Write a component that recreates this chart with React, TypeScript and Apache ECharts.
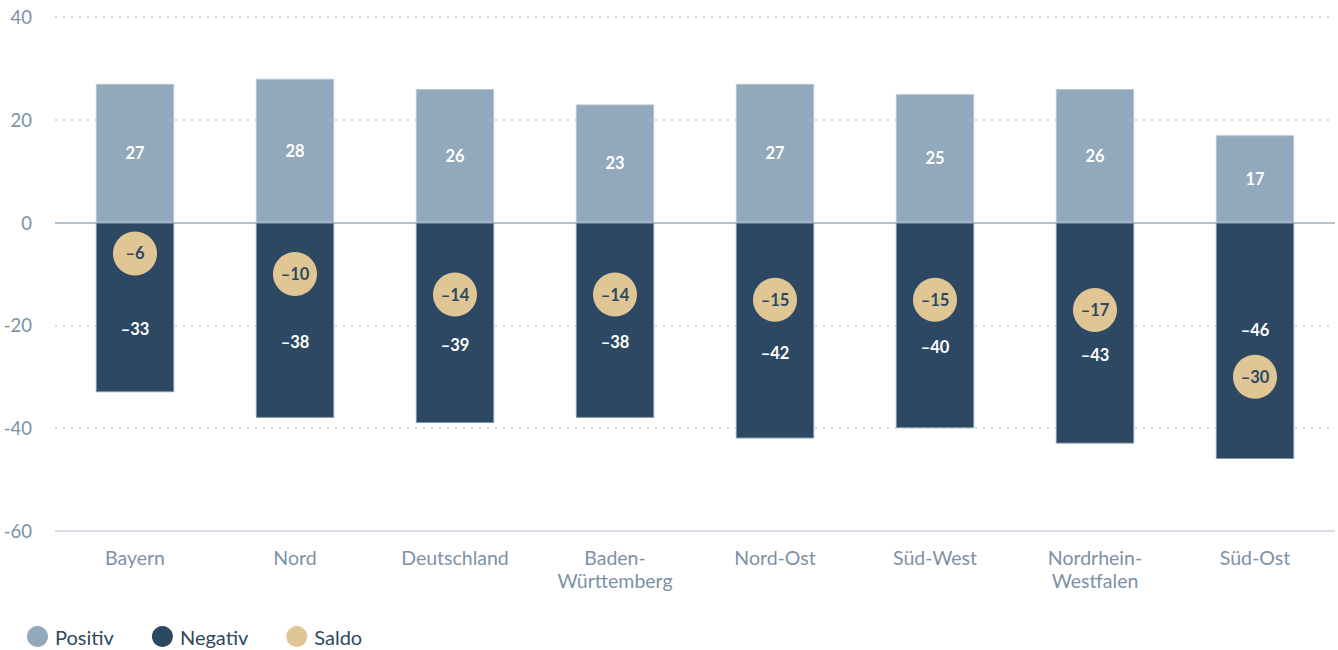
import React, { useEffect, useRef } from "react";
import * as echarts from "echarts";

const categories = ["Bayern", "Nord", "Deutschland", "Baden-\nWürttemberg", "Nord-Ost", "Süd-West", "Nordrhein-\nWestfalen", "Süd-Ost"];
const positiv = [27, 28, 26, 23, 27, 25, 26, 17];
const negativ = [-33, -38, -39, -38, -42, -40, -43, -46];
const saldo = [-6, -10, -14, -14, -15, -15, -17, -30];
const yTicks = { min: -60, max: 40, interval: 20 };

const C_POS = "#92a8bc";
const C_NEG = "#2d4862";
const C_SAL = "#e0c695";
const FONT = "Lato";
const fmt = (v: number) => (v < 0 ? "\u2013" + Math.abs(v) : String(v));

export default function App() {
  const ref = useRef<HTMLDivElement>(null);
  useEffect(() => {
    if (!ref.current) return;
    const chart = echarts.init(ref.current, undefined, { renderer: "svg" });
    const negData = negativ.map((v, i) => {
      const labelVal = v / 2 - 4.3;
      const collide = Math.abs(saldo[i] - labelVal) < 6;
      return {
        value: v,
        label: { offset: [0, collide ? -11 : 22] },
      };
    });
    chart.setOption({
      animation: false,
      textStyle: { fontFamily: FONT },
      grid: { left: 55, right: 3, top: 17, bottom: 119, containLabel: false },
      legend: {
        left: 22,
        bottom: -2,
        icon: "circle",
        itemWidth: 21,
        itemHeight: 21,
        itemGap: 38,
        itemStyle: { borderWidth: 0 },
        textStyle: { fontFamily: FONT, fontSize: 20, color: C_NEG, padding: [0, 0, 0, 2] },
        data: ["Positiv", "Negativ", "Saldo"],
      },
      xAxis: {
        type: "category",
        data: categories,
        axisLine: { show: false },
        axisTick: { show: false },
        axisLabel: { color: "#7d91a6", fontSize: 19.5, fontFamily: FONT, margin: 15, lineHeight: 23, interval: 0 },
      },
      yAxis: {
        type: "value",
        min: yTicks.min,
        max: yTicks.max,
        interval: yTicks.interval,
        axisLine: { show: false },
        axisTick: { show: false },
        axisLabel: { color: "#7d91a6", fontSize: 18.5, fontFamily: FONT, margin: 23 },
        splitLine: { show: true, lineStyle: { color: "#c3cedb", type: [2, 6], width: 1.5 } },
      },
      series: [
        {
          name: "Positiv",
          type: "bar",
          data: positiv,
          barWidth: "49%",
          barGap: "-100%",
          itemStyle: { color: C_POS, borderColor: "#b9c7d4", borderWidth: 1 },
          label: { show: true, position: "inside", color: "#fff", fontWeight: "bold", fontSize: 16.5, fontFamily: FONT, formatter: (p: any) => fmt(p.value) },
          z: 2,
        },
        {
          name: "Negativ",
          type: "bar",
          data: negData,
          barWidth: "49%",
          itemStyle: { color: C_NEG, borderColor: "#8297ab", borderWidth: 1 },
          label: { show: true, position: "inside", color: "#fff", fontWeight: "bold", fontSize: 16.5, fontFamily: FONT, formatter: (p: any) => fmt(p.value) },
          markLine: {
            silent: true,
            symbol: "none",
            label: { show: false },
            lineStyle: { color: "#b5c3d1", width: 2, type: "solid" },
            data: [{ yAxis: 0 }],
            z: 1,
          },
          z: 2,
        },
        {
          name: "Saldo",
          type: "scatter",
          data: saldo,
          symbol: "circle",
          symbolSize: 44,
          itemStyle: { color: C_SAL, opacity: 1 },
          label: { show: true, position: "inside", color: C_NEG, fontWeight: "bold", fontSize: 16.5, fontFamily: FONT, formatter: (p: any) => fmt(p.value) },
          z: 5,
        },
        {
          name: "baseline",
          type: "line",
          data: [],
          markLine: {
            silent: true,
            symbol: "none",
            label: { show: false },
            lineStyle: { color: "#d6dfe9", width: 2, type: "solid" },
            data: [{ yAxis: -60 }],
          },
        },
      ],
    });
    return () => chart.dispose();
  }, []);
  return <div ref={ref} style={{ width: 1338, height: 650, position: "absolute", left: 0, top: 0 }} />;
}
